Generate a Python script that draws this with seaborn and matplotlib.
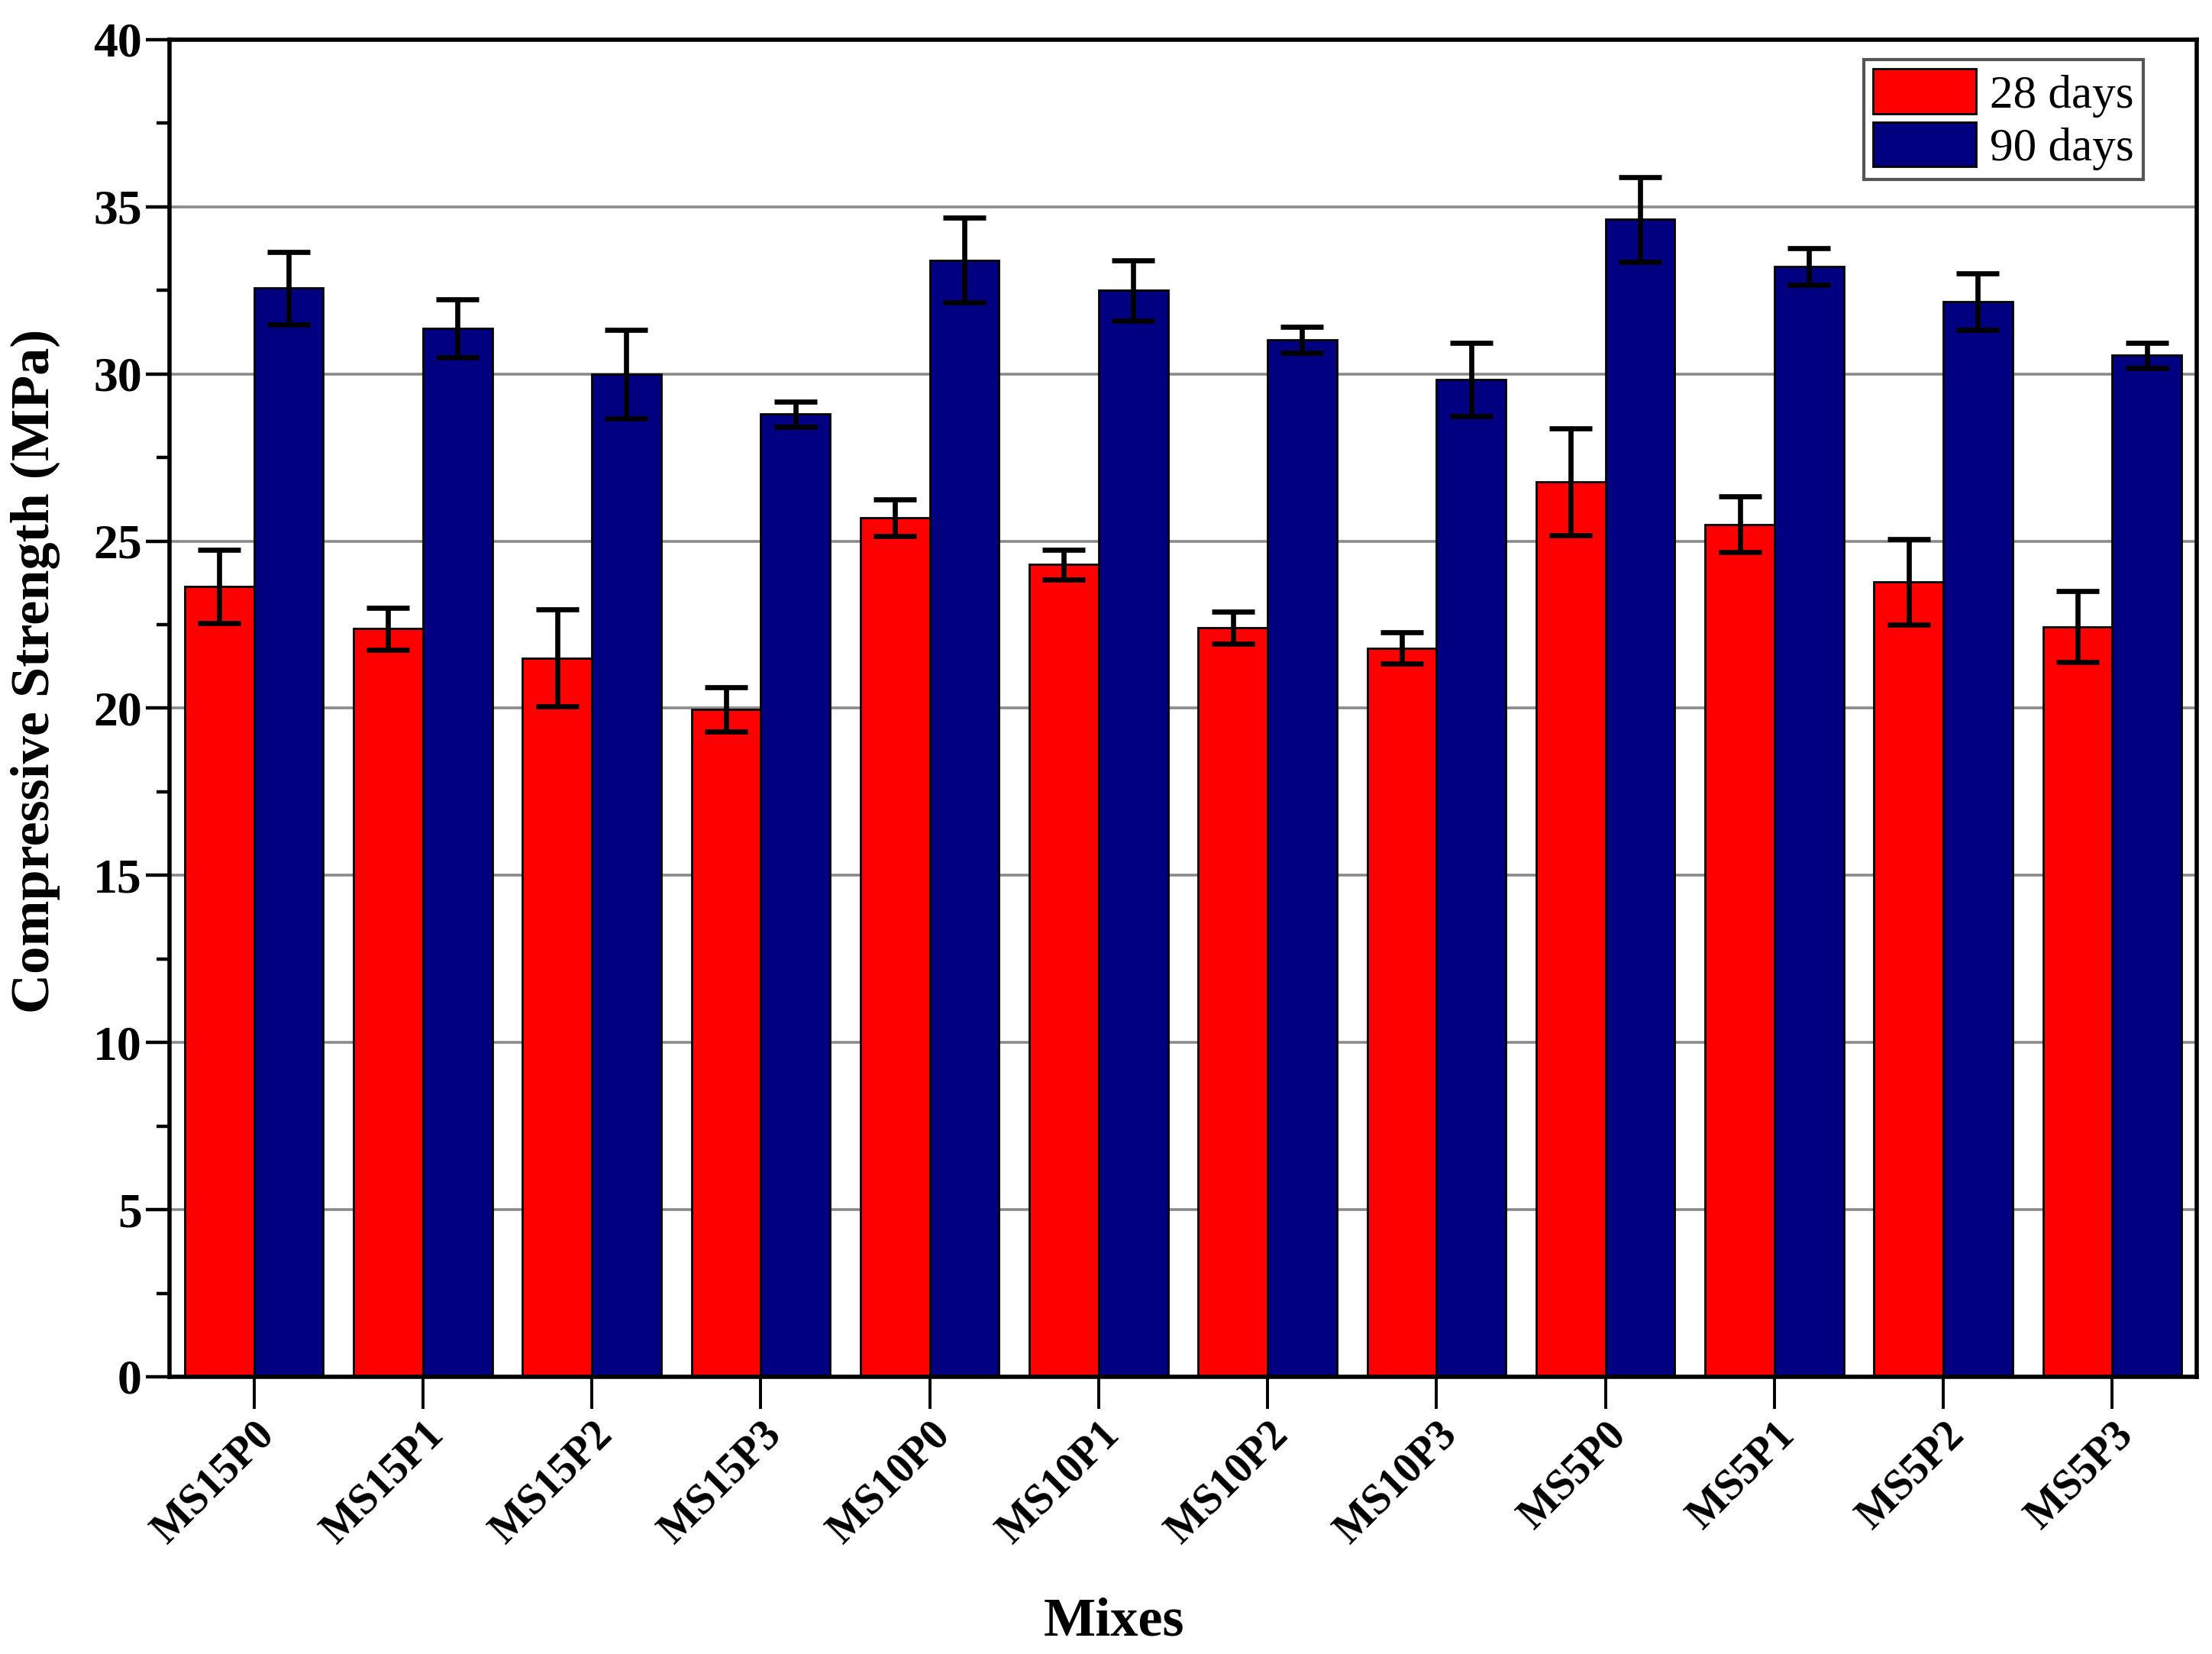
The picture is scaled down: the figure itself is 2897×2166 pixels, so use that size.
import pandas as pd
import seaborn as sns
import matplotlib.pyplot as plt
from matplotlib.ticker import MultipleLocator

# Data
mixes = ["MS15P0", "MS15P1", "MS15P2", "MS15P3",
         "MS10P0", "MS10P1", "MS10P2", "MS10P3",
         "MS5P0", "MS5P1", "MS5P2", "MS5P3"]
ages = ["28 days", "90 days"]
strength_28 = [23.64, 22.38, 21.50, 19.97, 25.70, 24.30, 22.41, 21.80, 26.77, 25.50, 23.78, 22.44]
strength_90 = [32.57, 31.37, 30.00, 28.80, 33.40, 32.50, 31.02, 29.83, 34.62, 33.22, 32.17, 30.56]
err_28 = [1.10, 0.63, 1.45, 0.66, 0.55, 0.45, 0.47, 0.47, 1.60, 0.83, 1.29, 1.06]
err_90 = [1.08, 0.87, 1.33, 0.38, 1.27, 0.90, 0.38, 1.10, 1.27, 0.55, 0.84, 0.38]
colors = ["#FF0000", "#000080"]

data = pd.DataFrame({
    "Mix": mixes * 2,
    "Age": [ages[0]] * len(mixes) + [ages[1]] * len(mixes),
    "Strength": strength_28 + strength_90,
})

sns.set_style("white")
plt.rcParams["font.family"] = ["Liberation Serif", "DejaVu Serif"]
plt.rcParams["text.color"] = "black"
plt.rcParams["axes.labelcolor"] = "black"
plt.rcParams["xtick.color"] = "black"
plt.rcParams["ytick.color"] = "black"

fig = plt.figure(figsize=(14.485, 10.83), dpi=200)
ax = fig.add_axes([0.0766, 0.1676, 0.9165, 0.8084])

sns.barplot(data=data, x="Mix", y="Strength", hue="Age", order=mixes,
            hue_order=ages, palette=colors, width=0.82, errorbar=None,
            edgecolor="black", linewidth=1.0, saturation=1, legend=False,
            ax=ax, zorder=2)

# Error bars at the bar centres
for container, errs in zip(ax.containers, [err_28, err_90]):
    xs = [p.get_x() + p.get_width() / 2 for p in container.patches]
    ys = [p.get_height() for p in container.patches]
    ax.errorbar(xs, ys, yerr=errs, fmt="none", ecolor="black",
                elinewidth=2.4, capsize=10, capthick=2.4, zorder=3)

ax.set_xlim(-0.5, len(mixes) - 0.5)
ax.set_ylim(0, 40)
ax.yaxis.set_major_locator(MultipleLocator(5))
ax.yaxis.set_minor_locator(MultipleLocator(2.5))
ax.yaxis.grid(True, which="major", color="#8a8a8a", linewidth=1.3, zorder=0)
ax.set_axisbelow(True)

for side in ["left", "right", "top", "bottom"]:
    ax.spines[side].set_visible(True)
    ax.spines[side].set_color("black")
    ax.spines[side].set_linewidth(2.0)

ax.tick_params(axis="y", which="major", direction="out", length=11, width=1.6,
               labelsize=23, pad=2, left=True, colors="black")
ax.tick_params(axis="y", which="minor", direction="out", length=6, width=1.6, left=True)
ax.tick_params(axis="x", which="major", direction="out", length=15, width=1.4,
               labelsize=20, pad=3, bottom=True, colors="black")
for lab in ax.get_yticklabels():
    lab.set_fontweight("bold")
ax.set_xticks(range(len(mixes)))
ax.set_xticklabels(mixes, rotation=45, ha="right", va="top",
                   rotation_mode="anchor", fontweight="bold")

ax.set_xlabel("Mixes", fontsize=26, fontweight="bold", color="black")
ax.set_ylabel("Compressive Strength (MPa)", fontsize=26, fontweight="bold",
              color="black")
ax.xaxis.set_label_coords(0.466, -0.165)
ax.yaxis.set_label_coords(-0.054, 0.528)

leg = ax.legend(ax.containers, ages, loc="upper right",
                bbox_to_anchor=(0.9736, 0.985), borderaxespad=0,
                fontsize=22, frameon=True, fancybox=False, edgecolor="#555555",
                framealpha=1, handlelength=2.2, handleheight=1.1,
                labelspacing=0.1, handletextpad=0.3, borderpad=0.2)
leg.get_frame().set_linewidth(1.5)
for txt in leg.get_texts():
    txt.set_color("black")

fig.savefig("out.png", dpi=200)
